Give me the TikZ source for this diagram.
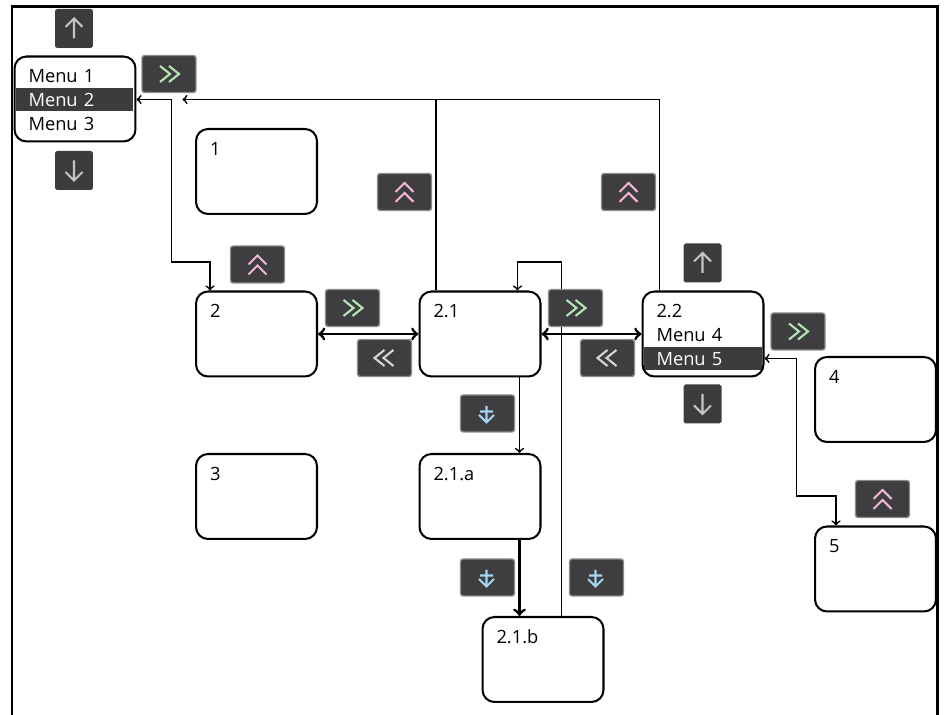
\documentclass[tikz,border=0pt]{standalone}
\usepackage{xcolor}
\usepackage{fontspec}
\setmainfont{Open Sans}
\usepackage{tikz}
\usetikzlibrary{arrows}
\definecolor{keyfill}{HTML}{3E3E41}
\definecolor{keyedge}{HTML}{8C8C8E}
\definecolor{barfill}{HTML}{3C3C3C}
\definecolor{arrowgray}{HTML}{C4C4C4}
\definecolor{backgray}{HTML}{D4D4D4}
\definecolor{fwdgreen}{HTML}{B7E2B5}
\definecolor{exitpink}{HTML}{F3B7D2}
\definecolor{enterblue}{HTML}{A2D6F0}
\tikzstyle{scr} = [rectangle, rounded corners=0.24cm, draw=black, line width=1.15pt, text width=1.86cm, inner xsep=0.28cm, inner ysep=0pt, align=left, text height=0.53cm, text depth=1.17cm, font=\fontsize{10.4pt}{13.6pt}\selectfont]
\tikzstyle{bar} = [rectangle, fill=barfill, minimum width=2.35cm, minimum height=0.46cm, inner sep=0pt]
\tikzstyle{key} = [rectangle, fill=keyfill, draw=keyedge, line width=0.8pt, rounded corners=1.5pt, minimum width=1.08cm, minimum height=0.74cm, inner sep=0pt]
\tikzstyle{arrkey} = [rectangle, fill=barfill, rounded corners=1pt, minimum width=0.76cm, minimum height=0.78cm, inner sep=0pt]
\tikzstyle{link} = [line width=0.95pt,->,>=to]
\tikzstyle{dlink} = [line width=0.95pt,<->,>=to]
\tikzstyle{tarrow} = [line width=1.6pt,->,>=to]
\tikzstyle{tlink} = [line width=1.6pt,<->,>=to]
\tikzstyle{icon} = [line width=1.2pt]
\tikzset{
  upkey/.pic={\draw[icon, arrowgray] (0,10) -- (0,-10) (-8.5,-1.5) -- (0,-10) -- (8.5,-1.5);},
  downkey/.pic={\draw[icon, arrowgray] (0,-10) -- (0,10) (-8.5,1.5) -- (0,10) -- (8.5,1.5);},
  fwdkey/.pic={\draw[icon, fwdgreen] (-9,-8) -- (1,0) -- (-9,8) (0,-8) -- (10,0) -- (0,8);},
  backkey/.pic={\draw[icon, backgray] (9,-8) -- (-1,0) -- (9,8) (0,-8) -- (-10,0) -- (0,8);},
  exitkey/.pic={\draw[icon, exitpink] (-9,0) -- (0,-9) -- (9,0) (-9,10) -- (0,1) -- (9,10);},
  enterkey/.pic={\draw[icon, enterblue] (-1,-7.5) -- (-1,8) (-7.5,-2) -- (5.5,-2) (-8.5,1.5) -- (-1,9) -- (6.5,1.5);}
}

\begin{document}
\begin{tikzpicture}[x=0.02cm, y=-0.02cm]
        \useasboundingbox (0,0) rectangle (944,715);
        % frame
        \draw[line width=1.4pt] (12,715) -- (12,6.5) -- (937.5,6.5) -- (937.5,715);
        % selected lines
        \node (bar2) [bar] at (74.5,99.5) {};
        \node (bar5) [bar] at (703,358.5) {};
        % screens
        \node (menu) [scr] at (75,99) {Menu 1\\\textcolor{white}{Menu 2}\\Menu 3};
        \node (s1) [scr] at (256.5,171.5) {1};
        \node (s2) [scr] at (256.5,334) {2};
        \node (s21) [scr] at (480,334) {2.1};
        \node (s22) [scr] at (703,334) {2.2\\Menu 4\\\textcolor{white}{Menu 5}};
        \node (s4) [scr] at (875.5,399.5) {4};
        \node (s3) [scr] at (256.5,496.5) {3};
        \node (s21a) [scr] at (480,496.5) {2.1.a};
        \node (s5) [scr] at (875.5,569) {5};
        \node (s21b) [scr] at (543,659.5) {2.1.b};
        % connectors
        \coordinate (ret) at ([xshift=0.92cm]menu.east |- bar2.east);
        \draw [dlink] (menu.east |- bar2.east) -- ++(35,0) |- ([xshift=0.3cm, yshift=0.57cm]s2.north west) -- ([xshift=0.3cm]s2.north west);
        \draw [link] ([xshift=0.35cm]s21.north west) |- (ret);
        \draw [line width=0.95pt] ([xshift=0.36cm]s22.north west) |- ([xshift=0.35cm]s21.north west |- ret);
        \draw [tlink] (s2) -- (s21);
        \draw [tlink] (s21) -- (s22);
        \draw [link] ([xshift=2.02cm]s21.south west) -- ([xshift=2.02cm]s21a.north west);
        \draw [tarrow] ([xshift=2.02cm]s21a.south west) -- ([xshift=0.76cm]s21b.north west);
        \draw [link] ([xshift=1.6cm]s21b.north west) |- ([xshift=1.98cm, yshift=0.57cm]s21.north west) -- ([xshift=1.98cm]s21.north west);
        \draw [dlink] (s22.east |- bar5.east) -- ++(32,0) |- ([xshift=0.44cm, yshift=0.59cm]s5.north west) -- ([xshift=0.44cm]s5.north west);
        % keys
        \node (up1) [arrkey] at (74,28.5) {};
        \node (dn1) [arrkey] at (74,170.5) {};
        \node (fw1) [key] at (169,74) {};
        \node (ex1) [key] at (404.5,192) {};
        \node (ex2) [key] at (628.5,192) {};
        \node (ex3) [key] at (257.5,264.5) {};
        \node (fw2) [key] at (352.5,308) {};
        \node (bk2) [key] at (384.5,358) {};
        \node (fw3) [key] at (575.5,308) {};
        \node (bk3) [key] at (607.5,358) {};
        \node (up2) [arrkey] at (702.5,263) {};
        \node (dn2) [arrkey] at (702.5,404) {};
        \node (fw4) [key] at (798,331.5) {};
        \node (ex5) [key] at (882.5,499) {};
        \node (in1) [key] at (487.5,413.5) {};
        \node (in2) [key] at (487.5,577.5) {};
        \node (in3) [key] at (596.5,577.5) {};
        % key icons
        \pic at (up1) {upkey};
        \pic at (up2) {upkey};
        \pic at (dn1) {downkey};
        \pic at (dn2) {downkey};
        \pic at (fw1) {fwdkey};
        \pic at (fw2) {fwdkey};
        \pic at (fw3) {fwdkey};
        \pic at (fw4) {fwdkey};
        \pic at (bk2) {backkey};
        \pic at (bk3) {backkey};
        \pic at (ex1) {exitkey};
        \pic at (ex2) {exitkey};
        \pic at (ex3) {exitkey};
        \pic at (ex5) {exitkey};
        \pic at (in1) {enterkey};
        \pic at (in2) {enterkey};
        \pic at (in3) {enterkey};
    \end{tikzpicture}
\end{document}
